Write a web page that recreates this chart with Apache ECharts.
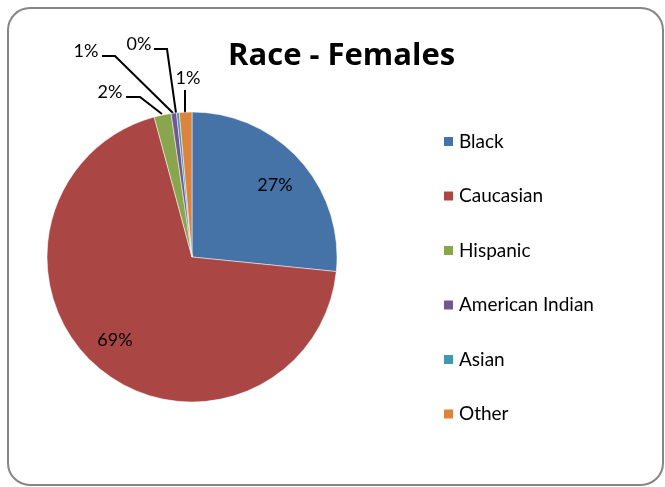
<!DOCTYPE html>
<html>
<head>
<meta charset="utf-8">
<script src="https://cdn.jsdelivr.net/npm/echarts@6/dist/echarts.min.js"></script>
<style>
  html, body { margin: 0; padding: 0; background: #fff; }
  #chart { width: 665px; height: 487px; }
</style>
</head>
<body>
<div id="chart"></div>
<script>
  // slices, in the order they are drawn clockwise from 12 o'clock
  const categories = ['Black', 'Caucasian', 'Hispanic', 'American Indian', 'Asian', 'Other'];
  const shares = [26.6, 69.2, 1.9, 0.6, 0.3, 1.4];
  const colors = ['#4572A7', '#AA4643', '#89A54E', '#71588F', '#4198AF', '#DB843D'];

  const FONT = 'Lato, "Open Sans", sans-serif';

  // where each percentage label sits, and its leader line (Excel layout)
  const labelSpots = [
    { x: 275, y: 185 },
    { x: 115, y: 340 },
    { x: 110, y: 92, line: [[162, 114], [140, 97], [126, 97]] },
    { x: 86, y: 51, line: [[173, 113], [115, 56], [102, 56]] },
    { x: 139, y: 44, line: [[176, 113], [167, 49], [154, 49]] },
    { x: 188, y: 78, line: [[185, 113], [185, 90]] }
  ];

  const chart = echarts.init(document.getElementById('chart'));

  const option = {
    animation: false,
    color: colors,
    title: {
      text: 'Race - Females',
      left: 223,
      top: 36,
      textStyle: { fontFamily: '"Open Sans", sans-serif', fontSize: 31, fontWeight: 'bold', color: '#000' }
    },
    legend: {
      orient: 'vertical',
      left: 437,
      top: 127,
      icon: 'rect',
      itemWidth: 11,
      itemHeight: 11,
      itemGap: 35.5,
      data: categories,
      textStyle: { fontFamily: FONT, fontSize: 19, color: '#000' }
    },
    graphic: [{
      type: 'rect',
      shape: { x: 8, y: 8, width: 655, height: 477, r: 22 },
      style: { fill: 'none', stroke: '#868686', lineWidth: 2 },
      silent: true
    }],
    series: [{
      type: 'pie',
      center: [192, 257],
      radius: 145,
      startAngle: 90,
      clockwise: true,
      avoidLabelOverlap: false,
      itemStyle: { borderColor: '#fff', borderWidth: 0.5 },
      label: {
        show: true,
        position: 'outside',
        formatter: p => Math.round(p.percent) + '%',
        fontFamily: FONT,
        fontSize: 18,
        color: '#000'
      },
      labelLine: {
        show: true,
        length: 10,
        length2: 10,
        lineStyle: { color: '#000', width: 2 }
      },
      labelLayout: function (p) {
        const s = labelSpots[p.dataIndex];
        const out = { x: s.x, y: s.y, align: 'center', verticalAlign: 'middle' };
        if (s.line) out.labelLinePoints = s.line;
        return out;
      },
      emphasis: { disabled: true },
      data: categories.map((name, i) => ({
        name: name,
        value: shares[i],
        labelLine: { show: i > 1 }
      }))
    }]
  };

  chart.setOption(option);
</script>
</body>
</html>
